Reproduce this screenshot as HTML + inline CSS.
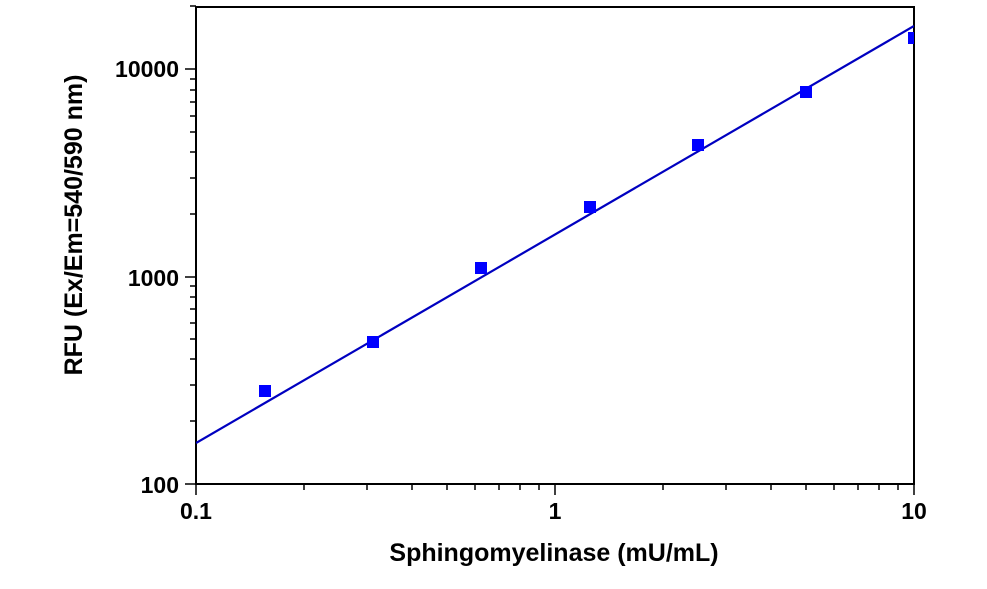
<!DOCTYPE html>
<html><head><style>body{margin:0;background:#fff}</style></head><body>
<svg width="987" height="584" xmlns="http://www.w3.org/2000/svg" font-family="Liberation Sans, Arial, sans-serif" font-weight="bold">
<defs><clipPath id="c"><rect x="196" y="7" width="718" height="477"/></clipPath></defs>
<g stroke="#000" stroke-width="2" fill="none">
<rect x="196" y="7" width="718" height="477"/>
</g>
<g stroke="#000" stroke-width="1.5">
<line x1="196" y1="484" x2="196" y2="495"/><line x1="555" y1="484" x2="555" y2="495"/><line x1="914" y1="484" x2="914" y2="495"/>
<line x1="304" y1="484" x2="304" y2="490"/><line x1="367" y1="484" x2="367" y2="490"/><line x1="412" y1="484" x2="412" y2="490"/><line x1="447" y1="484" x2="447" y2="490"/><line x1="475" y1="484" x2="475" y2="490"/><line x1="499" y1="484" x2="499" y2="490"/><line x1="520" y1="484" x2="520" y2="490"/><line x1="539" y1="484" x2="539" y2="490"/>
<line x1="663" y1="484" x2="663" y2="490"/><line x1="726" y1="484" x2="726" y2="490"/><line x1="771" y1="484" x2="771" y2="490"/><line x1="806" y1="484" x2="806" y2="490"/><line x1="834" y1="484" x2="834" y2="490"/><line x1="858" y1="484" x2="858" y2="490"/><line x1="879" y1="484" x2="879" y2="490"/><line x1="898" y1="484" x2="898" y2="490"/>
<line x1="185" y1="484" x2="196" y2="484"/><line x1="185" y1="277" x2="196" y2="277"/><line x1="185" y1="69" x2="196" y2="69"/>
<line x1="190" y1="421" x2="196" y2="421"/><line x1="190" y1="385" x2="196" y2="385"/><line x1="190" y1="359" x2="196" y2="359"/><line x1="190" y1="339" x2="196" y2="339"/><line x1="190" y1="323" x2="196" y2="323"/><line x1="190" y1="309" x2="196" y2="309"/><line x1="190" y1="297" x2="196" y2="297"/><line x1="190" y1="286" x2="196" y2="286"/>
<line x1="190" y1="214" x2="196" y2="214"/><line x1="190" y1="178" x2="196" y2="178"/><line x1="190" y1="152" x2="196" y2="152"/><line x1="190" y1="132" x2="196" y2="132"/><line x1="190" y1="116" x2="196" y2="116"/><line x1="190" y1="102" x2="196" y2="102"/><line x1="190" y1="90" x2="196" y2="90"/><line x1="190" y1="79" x2="196" y2="79"/>
<line x1="190" y1="6" x2="196" y2="6"/>
</g>
<g clip-path="url(#c)">
<line x1="196" y1="443" x2="914" y2="26" stroke="#0000c0" stroke-width="2.2"/>
<g fill="#0000ff">
<rect x="259" y="385" width="12" height="12"/><rect x="367" y="336" width="12" height="12"/><rect x="475" y="262" width="12" height="12"/><rect x="584" y="201" width="12" height="12"/><rect x="692" y="139" width="12" height="12"/><rect x="800" y="86" width="12" height="12"/><rect x="908" y="32" width="12" height="12"/>
</g>
</g>
<g font-size="23" fill="#000">
<text x="179" y="493" text-anchor="end">100</text>
<text x="179" y="286" text-anchor="end">1000</text>
<text x="179" y="77" text-anchor="end">10000</text>
<text x="196" y="519" text-anchor="middle">0.1</text>
<text x="555" y="519" text-anchor="middle">1</text>
<text x="914" y="519" text-anchor="middle">10</text>
</g>
<g font-size="25" fill="#000">
<text x="554" y="561" text-anchor="middle">Sphingomyelinase (mU/mL)</text>
<text transform="translate(82,225) rotate(-90)" text-anchor="middle">RFU (Ex/Em=540/590 nm)</text>
</g>
</svg>
</body></html>
